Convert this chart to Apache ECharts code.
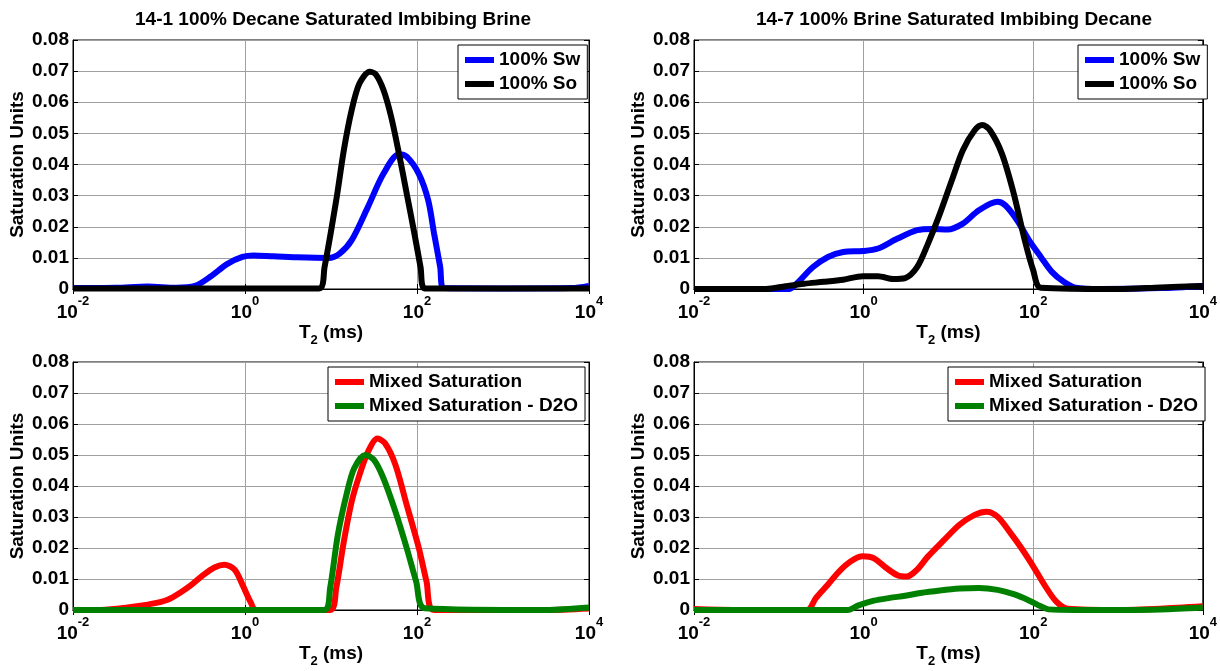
<!DOCTYPE html>
<html><head><meta charset="utf-8">
<script src="https://cdn.jsdelivr.net/npm/echarts@6/dist/echarts.min.js"></script>
<style>html,body{margin:0;padding:0;background:#fff}#c{width:1220px;height:671px}</style>
</head><body><div id="c"></div><script>
// ---- data ----
const titles = ['14-1 100% Decane Saturated Imbibing Brine', '14-7 100% Brine Saturated Imbibing Decane'];
const legendTop = ['100% Sw', '100% So'];
const legendBottom = ['Mixed Saturation', 'Mixed Saturation - D2O'];
const xTickValues = [0.01, 1, 100, 10000];
const xTickExponents = ['-2', '0', '2', '4'];
const yTickLabels = ['0', '0.01', '0.02', '0.03', '0.04', '0.05', '0.06', '0.07', '0.08'];
const yAxisName = 'Saturation Units';

// [T2 (ms), saturation units]
const sw_14_1 = [[0.01,0.0003],[0.0316,0.0004],[0.0741,0.0008],[0.158,0.0004],[0.263,0.001],[0.398,0.004],[0.617,0.008],[0.933,0.0103],[1.26,0.0108],[2.14,0.0105],[3.98,0.0102],[9.33,0.0100],[12.6,0.0114],[17.4,0.0157],[26.9,0.0264],[40.7,0.037],[61.7,0.0433],[75.9,0.0425],[105,0.037],[135,0.0285],[158,0.0178],[186,0.0071],[204,0.0003],[1000,0.0002],[6310,0.0003],[10000,0.001]];
const so_14_1 = [[0.01,0.0002],[7.24,0.0002],[8.41,0.007],[11.5,0.0285],[14.1,0.0446],[17.4,0.0575],[21.4,0.066],[28.2,0.0698],[33.1,0.069],[40.7,0.064],[50.1,0.0553],[61.7,0.0435],[75.9,0.0307],[93.3,0.0178],[110,0.007],[123,0.0002],[10000,0.0002]];
const sw_14_7 = [[0.01,0],[0.132,0],[0.162,0.0017],[0.251,0.007],[0.380,0.0103],[0.575,0.0119],[0.977,0.0122],[1.48,0.013],[2.51,0.0162],[4.27,0.0189],[6.46,0.0193],[9.77,0.0191],[14.8,0.021],[22.9,0.0253],[38.0,0.028],[46.8,0.0269],[64.6,0.0221],[89.1,0.0157],[123,0.0103],[166,0.0055],[229,0.0023],[316,0.0004],[631,0],[3162,0.0003],[10000,0.001]];
const so_14_7 = [[0.01,0],[0.0708,0],[0.120,0.0009],[0.200,0.0017],[0.339,0.0023],[0.575,0.003],[0.977,0.0041],[1.48,0.0041],[2.24,0.0032],[3.09,0.0035],[4.27,0.007],[5.75,0.0146],[7.94,0.0242],[11.0,0.035],[14.8,0.0446],[20.4,0.051],[25.1,0.0527],[30.9,0.051],[42.7,0.0435],[58.9,0.0307],[79.4,0.0157],[100,0.006],[123,0.0004],[1000,0],[3162,0.0005],[10000,0.001]];
const mixed_14_1 = [[0.01,0],[0.019,0],[0.0324,0.0004],[0.055,0.0012],[0.0933,0.0023],[0.126,0.0033],[0.174,0.0055],[0.240,0.0082],[0.331,0.0114],[0.447,0.0138],[0.575,0.0146],[0.759,0.013],[0.933,0.0082],[1.15,0.0028],[1.35,0],[9.77,0],[11.5,0.0071],[14.1,0.0221],[17.4,0.035],[21.4,0.0435],[26.9,0.051],[34.7,0.0553],[42.7,0.0537],[56.2,0.0468],[75.9,0.0339],[105,0.02],[129,0.0092],[158,0],[3162,0],[10000,0.0005]];
const d2o_14_1 = [[0.01,0],[8.32,0],[9.77,0.0071],[12.0,0.0242],[15.1,0.0371],[18.6,0.0457],[25.1,0.05],[31.6,0.0484],[40.7,0.0425],[56.2,0.0317],[75.9,0.02],[97.7,0.0092],[123,0.0006],[3162,0],[10000,0.0008]];
const mixed_14_7 = [[0.01,0.0003],[0.0316,0],[0.214,0],[0.275,0.0039],[0.380,0.0082],[0.513,0.0124],[0.708,0.0157],[0.977,0.0173],[1.32,0.0167],[1.82,0.0137],[2.51,0.0112],[3.24,0.0108],[4.27,0.013],[5.75,0.0173],[8.91,0.0226],[13.5,0.0275],[20.4,0.0307],[28.2,0.0317],[38.0,0.0301],[52.5,0.0253],[72.4,0.02],[100,0.0141],[135,0.0082],[186,0.0028],[257,0.0004],[1000,0],[3162,0.0004],[10000,0.0012]];
const d2o_14_7 = [[0.01,0],[0.646,0],[0.871,0.0015],[1.32,0.003],[2.04,0.0039],[3.09,0.0046],[4.68,0.0055],[7.94,0.0063],[13.5,0.0069],[22.9,0.0071],[38.0,0.0065],[58.9,0.0051],[89.1,0.0031],[123,0.0012],[151,0.0002],[316,0],[3162,0.0002],[10000,0.0008]];

// ---- layout ----
const FONT = "'Liberation Sans', Arial, sans-serif";
const grids = [
  {left: 73, top: 40, width: 516, height: 249},
  {left: 694, top: 40, width: 514, height: 249},
  {left: 73, top: 362, width: 516, height: 248},
  {left: 694, top: 362, width: 514, height: 248}
];

function xLabel(v) {
  const e = Math.round(Math.log10(v));
  const i = xTickValues.findIndex(t => Math.round(Math.log10(t)) === e);
  if (i < 0) return '';
  return '{b|10}{s|' + xTickExponents[i] + '}';
}
function yLabel(v) {
  const i = Math.round(v / 0.01);
  return yTickLabels[i] !== undefined ? yTickLabels[i] : '';
}
const gridLine = {show: true, lineStyle: {color: '#a0a0a0', width: 1}};
const xAxes = [], yAxes = [];
grids.forEach((g, i) => {
  xAxes.push({
    type: 'log', logBase: 10, min: 0.01, max: 10000, interval: 2, gridIndex: i,
    axisLine: {show: true, lineStyle: {color: '#000', width: 1}},
    axisTick: {show: true, inside: true, length: 5, lineStyle: {color: '#000'}},
    minorTick: {show: false},
    splitLine: gridLine,
    axisLabel: {formatter: xLabel, margin: 6, color: '#000',
      rich: {b: {fontSize: 19, fontWeight: 'bold', fontFamily: FONT, color: '#000', lineHeight: 27, verticalAlign: 'bottom'},
             s: {fontSize: 13, fontWeight: 'bold', fontFamily: FONT, color: '#000', verticalAlign: 'top'}}},
    name: '{t|T}{u|2}{t| (ms)}', nameLocation: 'middle', nameGap: 31,
    nameTextStyle: {rich: {
      t: {fontSize: 19, fontWeight: 'bold', fontFamily: FONT, color: '#000', lineHeight: 19, verticalAlign: 'top'},
      u: {fontSize: 13, fontWeight: 'bold', fontFamily: FONT, color: '#000', lineHeight: 24, verticalAlign: 'bottom'}}}
  });
  yAxes.push({
    type: 'value', min: 0, max: 0.08, interval: 0.01, gridIndex: i,
    axisLine: {show: true, lineStyle: {color: '#000', width: 1}},
    axisTick: {show: true, inside: true, length: 5, lineStyle: {color: '#000'}},
    splitLine: gridLine,
    axisLabel: {formatter: yLabel, margin: 4, fontSize: 19, fontWeight: 'bold', fontFamily: FONT, color: '#000'},
    name: yAxisName, nameLocation: 'middle', nameGap: 46, nameRotate: 90,
    nameTextStyle: {fontSize: 19, fontWeight: 'bold', fontFamily: FONT, color: '#000'}
  });
});
grids.forEach((g, i) => {
  xAxes.push({type: 'log', logBase: 10, min: 0.01, max: 10000, interval: 2, gridIndex: i, position: 'top',
    axisLine: {show: true, lineStyle: {color: '#000', width: 1}},
    axisTick: {show: true, inside: true, length: 5, lineStyle: {color: '#000'}},
    axisLabel: {show: false}, splitLine: {show: false}});
  yAxes.push({type: 'value', min: 0, max: 0.08, interval: 0.01, gridIndex: i, position: 'right',
    axisLine: {show: true, lineStyle: {color: '#000', width: 1}},
    axisTick: {show: true, inside: true, length: 5, lineStyle: {color: '#000'}},
    axisLabel: {show: false}, splitLine: {show: false}});
});

function mk(name, data, color, idx, z) {
  return {type: 'line', name: name, data: data, xAxisIndex: idx, yAxisIndex: idx,
    symbol: 'none', showSymbol: false, smooth: 0.3, clip: false, z: z,
    lineStyle: {width: 6, color: color}, itemStyle: {color: color}, emphasis: {disabled: true}};
}
const BLUE = '#0000ff', BLACK = '#000000', RED = '#ff0000', GREEN = '#008000';
const series = [
  mk(legendTop[0], sw_14_1, BLUE, 0, 2), mk(legendTop[1], so_14_1, BLACK, 0, 3),
  mk(legendTop[0], sw_14_7, BLUE, 1, 2), mk(legendTop[1], so_14_7, BLACK, 1, 3),
  mk(legendBottom[0], mixed_14_1, RED, 2, 2), mk(legendBottom[1], d2o_14_1, GREEN, 2, 3),
  mk(legendBottom[0], mixed_14_7, RED, 3, 2), mk(legendBottom[1], d2o_14_7, GREEN, 3, 3)
];

function legend(data, left, top) {
  return {data: data, left: left, top: top, orient: 'vertical', icon: 'rect', itemWidth: 29, itemHeight: 6,
    itemGap: 4, padding: [5, 7, 5, 7], backgroundColor: '#fff', borderColor: '#000', borderWidth: 1,
    selectedMode: false, inactiveColor: '#000',
    textStyle: {fontSize: 19, fontWeight: 'bold', fontFamily: FONT, color: '#000', lineHeight: 20}};
}

const chart = echarts.init(document.getElementById('c'), null, {renderer: 'canvas'});
chart.setOption({
  animation: false,
  backgroundColor: '#fff',
  title: [
    {text: titles[0], left: 328, top: 5, textAlign: 'center', textStyle: {fontSize: 19, fontWeight: 'bold', fontFamily: FONT, color: '#000'}},
    {text: titles[1], left: 949, top: 5, textAlign: 'center', textStyle: {fontSize: 19, fontWeight: 'bold', fontFamily: FONT, color: '#000'}}
  ],
  legend: [legend(legendTop, 458, 45), legend(legendTop, 1078, 45), legend(legendBottom, 328, 367), legend(legendBottom, 948, 367)],
  grid: grids.map(g => Object.assign({show: true, borderColor: '#000', borderWidth: 1, backgroundColor: '#fff'}, g)),
  xAxis: xAxes,
  yAxis: yAxes,
  series: series
});
</script></body></html>
